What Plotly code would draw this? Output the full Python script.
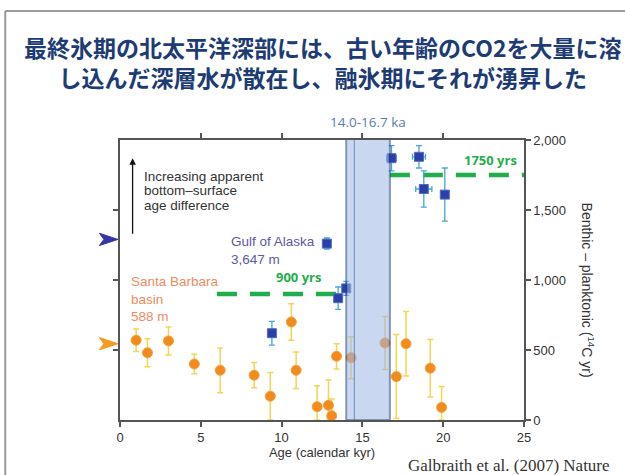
import plotly.graph_objects as go

# Gulf of Alaska (3,647 m) benthic - planktonic ages
goa_age = [9.4, 12.8, 13.5, 14.0, 16.8, 18.5, 18.8, 20.1]
goa_val = [620, 1260, 870, 940, 1870, 1880, 1650, 1610]
goa_err = [85, 40, 80, 50, 90, 80, 130, 190]
goa_xerr = [0, 0, 0.2, 0, 0.3, 0.4, 0.5, 0]

# Santa Barbara basin (588 m)
sb_age = [1.0, 1.7, 3.0, 4.6, 6.2, 8.3, 9.3, 10.6, 10.9, 12.2, 12.9, 13.1,
          13.4, 14.3, 16.4, 17.1, 17.7, 19.2, 19.9]
sb_val = [570, 480, 565, 400, 355, 320, 170, 700, 355, 95, 105, 30,
          455, 445, 550, 310, 545, 370, 90]
sb_err = [80, 100, 100, 70, 160, 90, 170, 130, 130, 150, 180, 120,
          90, 150, 190, 300, 230, 205, 150]

# Reference levels
level_900 = [6.0, 14.0]
level_1750 = [16.7, 25.0]
band = [14.0, 16.7]

# present-day levels flagged on the left axis
goa_modern = 1290
sb_modern = 545

x_ticks = [0, 5, 10, 15, 20, 25]
y_ticks = [0, 500, 1000, 1500, 2000]
y_ticklabels = ["0", "500", "1,000", "1,500", "2,000"]
Y_MAX = 2000

note_lines = ["Increasing apparent", "bottom–surface", "age difference"]
note_levels = [1736, 1636, 1529]

GREEN = "#1fae4b"
AX = "#555555"
TXT = "#333333"

fig = go.Figure()

# dashed reference levels
fig.add_trace(go.Scatter(x=level_900, y=[900, 900], mode="lines",
                         line=dict(color=GREEN, width=4.5, dash="20px,13px"),
                         hoverinfo="skip", showlegend=False))
fig.add_trace(go.Scatter(x=level_1750, y=[1750, 1750], mode="lines",
                         line=dict(color=GREEN, width=4.5, dash="20px,13px"),
                         hoverinfo="skip", showlegend=False))

# Santa Barbara circles (error bars kept above zero)
sb_minus = [min(e, v) for e, v in zip(sb_err, sb_val)]
fig.add_trace(go.Scatter(
    x=sb_age, y=sb_val, mode="markers",
    marker=dict(symbol="circle", size=10, color="#f28a1c",
                line=dict(color="#f5a040", width=1)),
    error_y=dict(type="data", array=sb_err, arrayminus=sb_minus,
                 color="#f3d552", thickness=1.5, width=3),
    cliponaxis=False, showlegend=False))

# Gulf of Alaska squares
fig.add_trace(go.Scatter(
    x=goa_age, y=goa_val, mode="markers",
    marker=dict(symbol="square", size=9, color="#2c3fa6",
                line=dict(color="#4f6cc4", width=1)),
    error_y=dict(type="data", array=goa_err, color="#45a6d6",
                 thickness=1.3, width=3),
    error_x=dict(type="data", array=goa_xerr, color="#45a6d6",
                 thickness=1.3, width=3),
    cliponaxis=False, showlegend=False))

# invisible trace so the top/left companion axes are drawn
fig.add_trace(go.Scatter(x=[0], y=[0], xaxis="x2", yaxis="y2", mode="markers",
                         marker=dict(opacity=0), hoverinfo="skip",
                         showlegend=False))

# shaded deglaciation window
fig.add_shape(type="rect", xref="x", yref="y", x0=band[0], x1=band[1],
              y0=0, y1=2015, fillcolor="#9fb8e4", opacity=0.55,
              line=dict(color="#1d3d82", width=2), layer="above")
fig.add_shape(type="line", xref="x", yref="y", x0=14.5, x1=14.5,
              y0=0, y1=2015, line=dict(color="#4a66a8", width=1),
              opacity=0.7, layer="above")


# pennant markers just left of the left axis (paper coordinates)
def pennant(level, color):
    yc = level / Y_MAX
    h = 0.022
    path = (f"M -0.051,{yc + h} L -0.005,{yc} L -0.051,{yc - h} "
            f"L -0.040,{yc} Z")
    fig.add_shape(type="path", xref="paper", yref="paper", path=path,
                  fillcolor=color, line=dict(color=color, width=1))


pennant(goa_modern, "#3535a8")
pennant(sb_modern, "#f59b22")

# slide frame
fig.add_shape(type="line", xref="paper", yref="paper", x0=-0.284, x1=1.3,
              y0=1.461, y1=1.461, line=dict(color="#9a9a9a", width=2))
fig.add_shape(type="line", xref="paper", yref="paper", x0=-0.284, x1=-0.284,
              y0=1.461, y1=-0.3, line=dict(color="#9a9a9a", width=2))

ann = []
ann.append(dict(xref="paper", yref="paper", x=0.5, y=1.28,
                xanchor="center", yanchor="middle", showarrow=False,
                text="<b>最終氷期の北太平洋深部には、古い年齢のCO2を大量に溶<br>"
                     "し込んだ深層水が散在し、融氷期にそれが湧昇した</b>",
                font=dict(family="Noto Sans CJK JP", size=23,
                          color="#1d3b74")))
ann.append(dict(xref="x", yref="paper", x=15.35, y=1.064, showarrow=False,
                text="14.0-16.7 ka", xanchor="center", yanchor="middle",
                font=dict(family="Open Sans", size=13.5, color="#5a7bb2")))
ann.append(dict(xref="x", yref="y", x=0.78, y=1870, ax=0.78, ay=1320,
                axref="x", ayref="y", showarrow=True, arrowhead=2,
                arrowsize=1, arrowwidth=1.3, arrowcolor="#111111", text=""))
for line, lvl in zip(note_lines, note_levels):
    ann.append(dict(xref="x", yref="y", x=1.35, y=lvl, xanchor="left",
                    yanchor="middle", showarrow=False, text=line,
                    font=dict(family="Liberation Sans", size=13.5, color=TXT)))
ann.append(dict(xref="x", yref="y", x=6.75, y=1212, xanchor="left",
                yanchor="middle", align="left", showarrow=False,
                text="Gulf of Alaska<br>3,647 m",
                font=dict(family="Liberation Sans", size=13.5, color="#5a5aa6")))
ann.append(dict(xref="x", yref="y", x=0.58, y=865, xanchor="left",
                yanchor="middle", align="left", showarrow=False,
                text="Santa Barbara<br>basin<br>588 m",
                font=dict(family="Liberation Sans", size=13.5, color="#ee8c5e")))
ann.append(dict(xref="x", yref="y", x=11.05, y=1025, xanchor="center",
                yanchor="middle", showarrow=False, text="<b>900 yrs</b>",
                font=dict(family="Open Sans", size=13, color=GREEN)))
ann.append(dict(xref="x", yref="y", x=22.95, y=1857, xanchor="center",
                yanchor="middle", showarrow=False, text="<b>1750 yrs</b>",
                font=dict(family="Open Sans", size=13, color=GREEN)))
ann.append(dict(xref="paper", yref="paper", x=1.159, y=0.465,
                xanchor="center", yanchor="middle", showarrow=False,
                textangle=90,
                text="Benthic – planktonic (<sup>14</sup>C yr)",
                font=dict(family="Liberation Sans", size=14, color=TXT)))
ann.append(dict(xref="paper", yref="paper", x=1.218, y=-0.161,
                xanchor="right", yanchor="middle", showarrow=False,
                text="Galbraith et al. (2007) Nature",
                font=dict(family="Liberation Serif", size=17, color=TXT)))

axis_common = dict(showgrid=False, zeroline=False, showline=True,
                   linecolor=AX, linewidth=1.5, ticks="outside",
                   tickcolor=AX, tickwidth=1.5, ticklen=5)

fig.update_layout(
    width=625, height=475,
    margin=dict(l=120, r=101, t=140, b=55),
    paper_bgcolor="white", plot_bgcolor="white",
    showlegend=False,
    font=dict(family="Liberation Sans", size=12, color=TXT),
    xaxis=dict(range=[0, 25], tickvals=x_ticks, title=dict(
        text="Age (calendar kyr)", standoff=3,
        font=dict(size=13, color=TXT)),
        tickfont=dict(size=13, color=TXT), **axis_common),
    xaxis2=dict(range=[0, 25], overlaying="x", side="top", anchor="y",
                tickvals=[5, 10, 15, 20], showticklabels=False,
                **axis_common),
    yaxis=dict(range=[0, Y_MAX], side="right", tickvals=y_ticks,
               ticktext=y_ticklabels, tickfont=dict(size=13, color=TXT),
               **axis_common),
    yaxis2=dict(range=[0, Y_MAX], overlaying="y", side="left", anchor="x",
                tickvals=[500, 1000, 1500], showticklabels=False,
                **axis_common),
    annotations=ann,
)

fig.write_html("out.html")
